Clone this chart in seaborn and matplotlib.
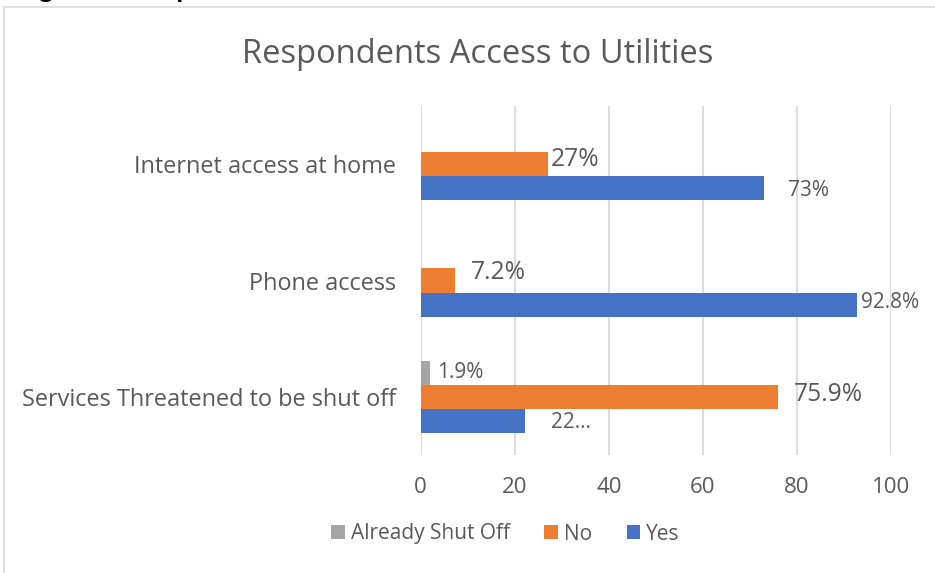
import numpy as np
import pandas as pd
import seaborn as sns
import matplotlib
matplotlib.use("Agg")
import matplotlib.pyplot as plt
from matplotlib.patches import Rectangle

# ---- data -------------------------------------------------------------
categories = ["Internet access at home", "Phone access",
              "Services Threatened to be shut off"]
responses = ["Already Shut Off", "No", "Yes"]
already_shut_off = [np.nan, np.nan, 1.9]
no_values = [27, 7.2, 75.9]
yes_values = [73, 92.8, 22.2]
tick_values = [0, 20, 40, 60, 80, 100]

# label text per (category, response); the last "Yes" label is cut short
label_text = {
    ("Internet access at home", "No"): "27%",
    ("Internet access at home", "Yes"): "73%",
    ("Phone access", "No"): "7.2%",
    ("Phone access", "Yes"): "92.8%",
    ("Services Threatened to be shut off", "Already Shut Off"): "1.9%",
    ("Services Threatened to be shut off", "No"): "75.9%",
    ("Services Threatened to be shut off", "Yes"): "22\u2026",
}

# ---- styling ----------------------------------------------------------
colors = {"Already Shut Off": "#A5A5A5", "No": "#ED7D31", "Yes": "#4472C4"}
text_color = "#595959"
grid_color = "#D9D9D9"
# (dx, dy) in points and font size for each value label
label_style = {
    ("Internet access at home", "No"): (2.5, 3.0, 17.7),
    ("Internet access at home", "Yes"): (17, -1.8, 15),
    ("Phone access", "No"): (12, 6.0, 17.7),
    ("Phone access", "Yes"): (3, 1.4, 15),
    ("Services Threatened to be shut off", "Already Shut Off"): (5, 0, 15),
    ("Services Threatened to be shut off", "No"): (12, 1.8, 17.7),
    ("Services Threatened to be shut off", "Yes"): (19, -1.1, 15),
}

rows = []
for cat, a, n, y in zip(categories, already_shut_off, no_values, yes_values):
    for resp, val in zip(responses, (a, n, y)):
        if not np.isnan(val):
            rows.append({"category": cat, "response": resp, "value": val})
df = pd.DataFrame(rows)

sns.set_theme(style="white")
plt.rcParams["font.family"] = ["Open Sans", "DejaVu Sans"]

W, H = 935, 573
fig = plt.figure(figsize=(W / 100, H / 100), dpi=100)
ax = fig.add_axes([420.7 / W, 1 - 455 / H, (891 - 420.7) / W, (455 - 106) / H])

sns.barplot(data=df, y="category", x="value", hue="response",
            order=categories, hue_order=responses, palette=colors,
            orient="h", width=0.62, gap=0, saturation=1, linewidth=0,
            errorbar=None, ax=ax)

ax.set_xlim(0, 100)
ax.set_ylim(2.5, -0.5)
ax.set_xticks(tick_values)
ax.set_xticklabels([str(t) for t in tick_values])
ax.set_xlabel("")
ax.set_ylabel("")
for s in ax.spines.values():
    s.set_visible(False)
ax.grid(axis="x", color=grid_color, linewidth=1.3)
ax.grid(axis="y", visible=False)
ax.set_axisbelow(True)
ax.tick_params(axis="both", length=0, colors=text_color)
ax.tick_params(axis="x", labelsize=16, pad=16)
ax.tick_params(axis="y", labelsize=16.9, pad=18)

# value labels next to each bar
for container, resp in zip(ax.containers, responses):
    for bar in container:
        w = bar.get_width()
        if np.isnan(w):
            continue
        yc = bar.get_y() + bar.get_height() / 2
        cat = categories[int(round(yc))]
        key = (cat, resp)
        if key not in label_text:
            continue
        dx, dy, fs = label_style[key]
        ax.annotate(label_text[key], xy=(w, yc), xytext=(dx, dy),
                    textcoords="offset points", ha="left", va="center",
                    fontsize=fs, color=text_color)

# legend below the axis
handles, labels = ax.get_legend_handles_labels()
ax.get_legend().remove()
fig.legend(handles, labels, loc="center", bbox_to_anchor=(505.5 / W, 1 - 534 / H),
           ncol=3, frameon=False, fontsize=15, labelcolor=text_color,
           handlelength=0.65, handleheight=0.65, handletextpad=0.3,
           columnspacing=1.65)

# chart title
fig.text(477.5 / W, 1 - 63 / H, "Respondents Access to Utilities",
         ha="center", va="baseline", fontsize=23.5, color=text_color)

# chart frame and the caption line above it
fig.add_artist(Rectangle((4 / W, -0.2), 1.5, 1 - 7 / H + 0.2,
                         transform=fig.transFigure, fill=False,
                         edgecolor=grid_color, linewidth=1.2))
fig.text(16 / W, 1 + 3 / H, "Figure 4: Respondents Access to Utilities",
         ha="left", va="baseline", fontsize=20, fontweight="bold",
         color="black", family=["Lato", "DejaVu Sans"])

fig.savefig("out.png", dpi=100)
